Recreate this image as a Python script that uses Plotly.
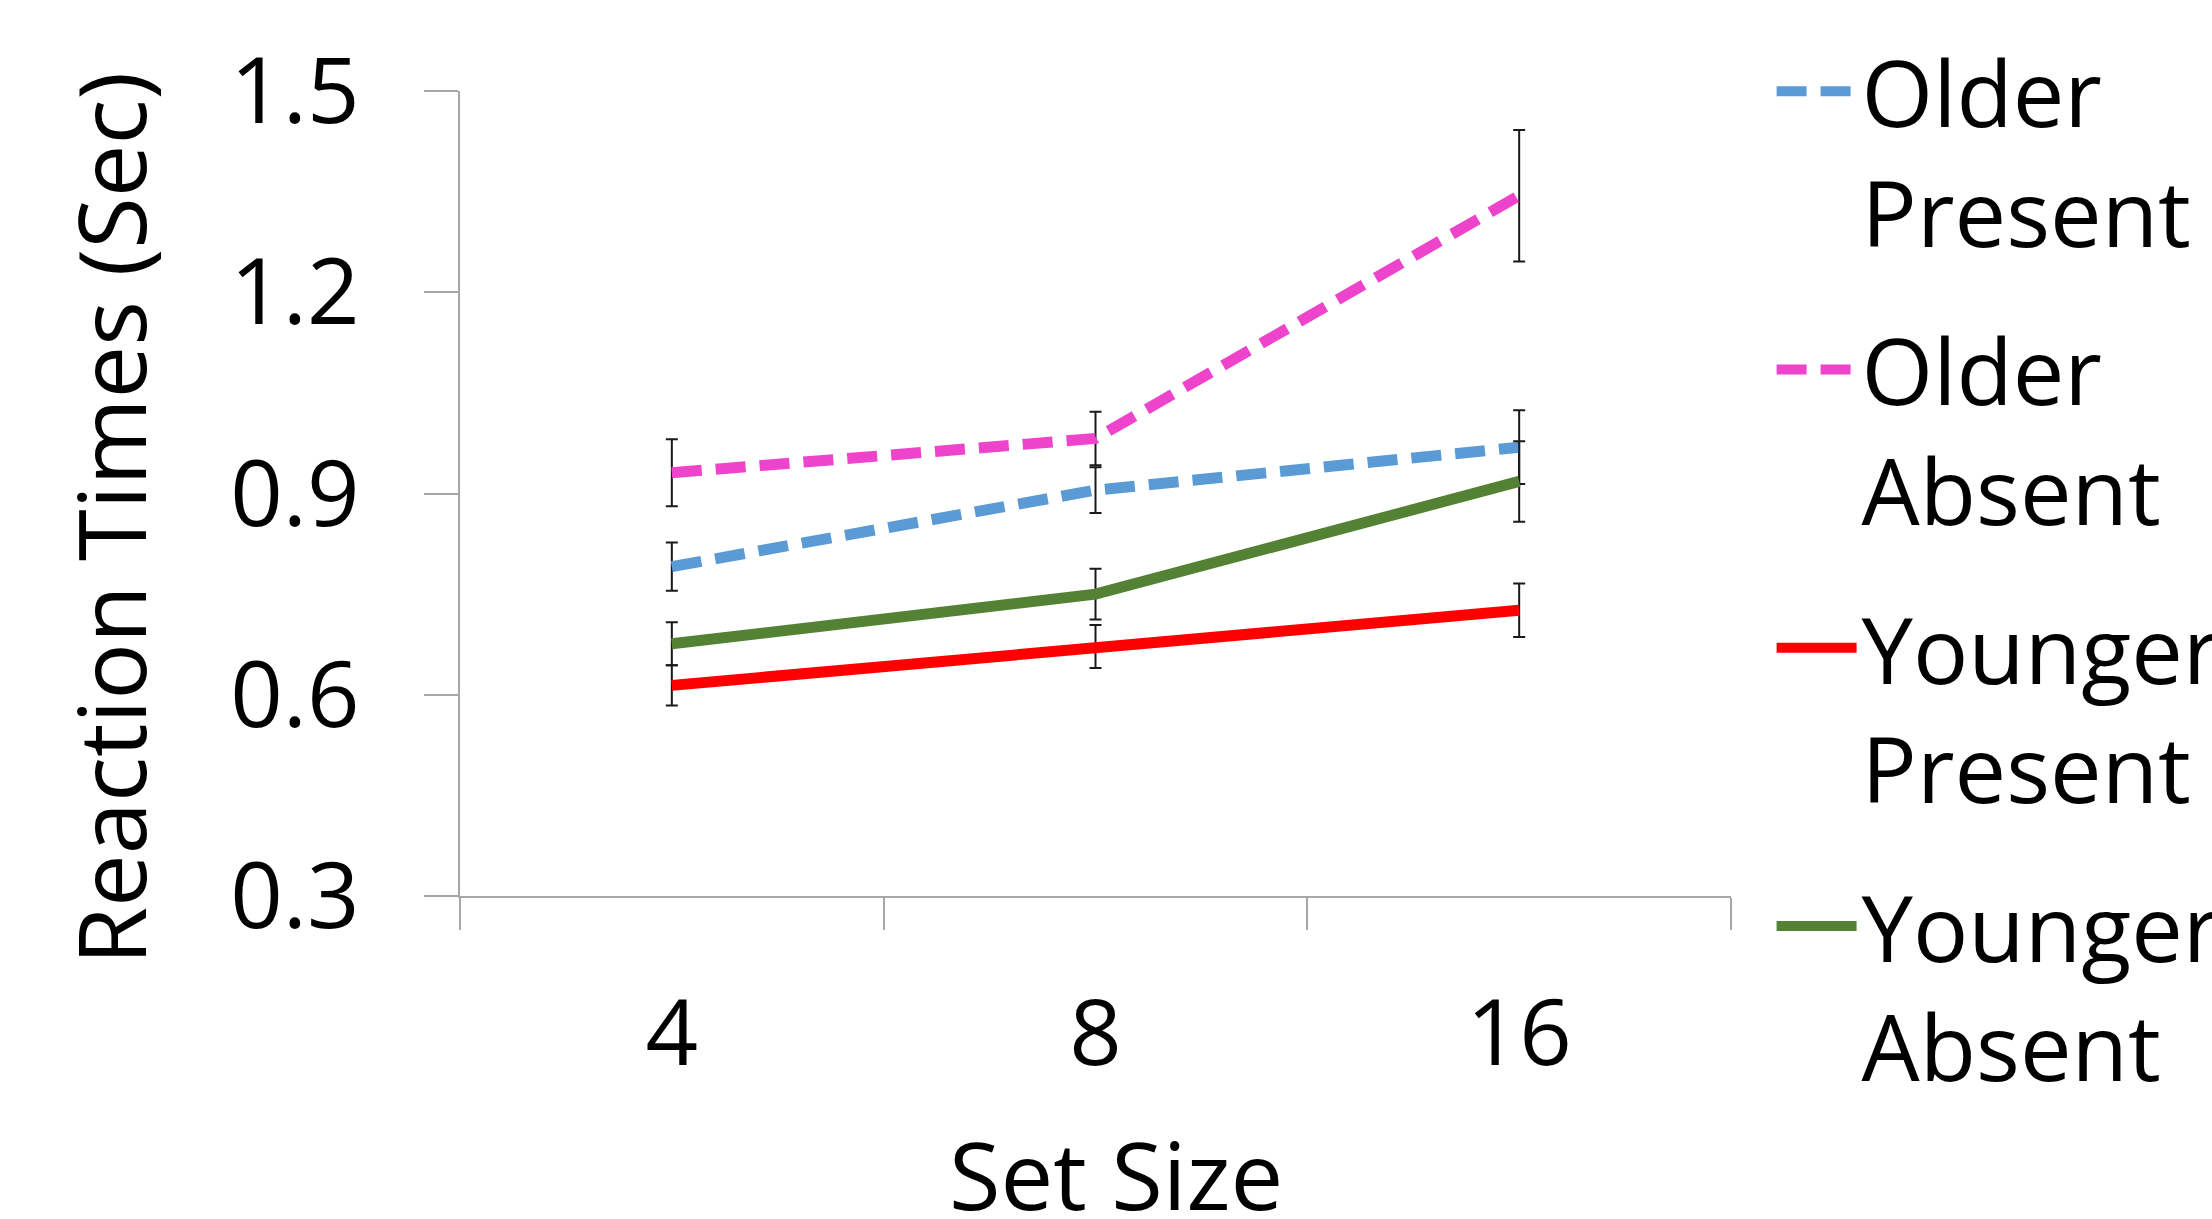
import plotly.graph_objects as go

# Set sizes shown on the category axis
set_sizes = ["4", "8", "16"]

# Mean reaction times (sec) per condition
older_present = [0.791, 0.905, 0.969]
older_absent = [0.931, 0.982, 1.344]
younger_present = [0.614, 0.672, 0.726]
younger_absent = [0.676, 0.750, 0.918]

# Error bar half-widths (sec)
older_present_err = [0.036, 0.034, 0.055]
older_absent_err = [0.050, 0.040, 0.098]
younger_present_err = [0.030, 0.032, 0.040]
younger_absent_err = [0.032, 0.038, 0.060]

y_ticks = [0.3, 0.6, 0.9, 1.2, 1.5]
y_tick_text = ["0.3", "0.6", "0.9", "1.2", "1.5"]

FONT = "Open Sans"

series = [
    ("Older<br>Present", older_present, older_present_err, "#5b9bd5", "30px,14px"),
    ("Older<br>Absent", older_absent, older_absent_err, "#ee44cc", "30px,14px"),
    ("Younger<br>Present", younger_present, younger_present_err, "#ff0000", "solid"),
    ("Younger<br>Absent", younger_absent, younger_absent_err, "#548235", "solid"),
]

fig = go.Figure()
for i, (name, vals, errs, color, dash) in enumerate(series):
    fig.add_trace(go.Scatter(
        x=set_sizes,
        y=vals,
        name=name,
        mode="lines",
        legendgroup=f"g{i}",
        line=dict(color=color, width=11, dash=dash),
        error_y=dict(type="data", array=errs, visible=True,
                     color="#1a1a1a", thickness=2, width=6),
    ))

# Axis titles placed as free text around the plotting area
fig.add_annotation(
    text="Reaction Times (Sec)", textangle=-90,
    xref="paper", yref="paper", x=-0.2754, y=0.4696,
    xanchor="center", yanchor="middle", showarrow=False,
    font=dict(family=FONT, size=94, color="black"),
)
fig.add_annotation(
    text="Set Size",
    xref="paper", yref="paper", x=0.5161, y=-0.3453,
    xanchor="center", yanchor="middle", showarrow=False,
    font=dict(family=FONT, size=94, color="black"),
)

fig.update_layout(
    width=2212,
    height=1219,
    margin=dict(l=460, r=481, t=91, b=323),
    paper_bgcolor="white",
    plot_bgcolor="white",
    font=dict(family=FONT, color="black", size=92),
    showlegend=True,
    legend=dict(
        xref="container", yref="container",
        x=0.8009, y=0.9795, xanchor="left", yanchor="top",
        font=dict(family=FONT, size=92, color="black"),
        valign="top",
        traceorder="grouped",
        tracegroupgap=36,
        itemwidth=80,
        maxheight=1219,
        bgcolor="rgba(0,0,0,0)",
    ),
    xaxis=dict(
        type="category",
        range=[-0.5, 2.5],
        showgrid=False,
        zeroline=False,
        showline=True,
        linecolor="#a6a6a6",
        linewidth=2,
        ticks="outside",
        tickson="boundaries",
        ticklen=32,
        tickwidth=2,
        tickcolor="#a6a6a6",
        tickfont=dict(family=FONT, size=92, color="black"),
        ticklabelstandoff=57,
    ),
    yaxis=dict(
        range=[0.3, 1.5],
        tickvals=y_ticks,
        ticktext=y_tick_text,
        showgrid=False,
        zeroline=False,
        showline=True,
        linecolor="#a6a6a6",
        linewidth=2,
        ticks="outside",
        ticklen=34,
        tickwidth=2,
        tickcolor="#a6a6a6",
        tickfont=dict(family=FONT, size=92, color="black"),
        ticklabelstandoff=46,
    ),
)

fig.write_html("out.html")
